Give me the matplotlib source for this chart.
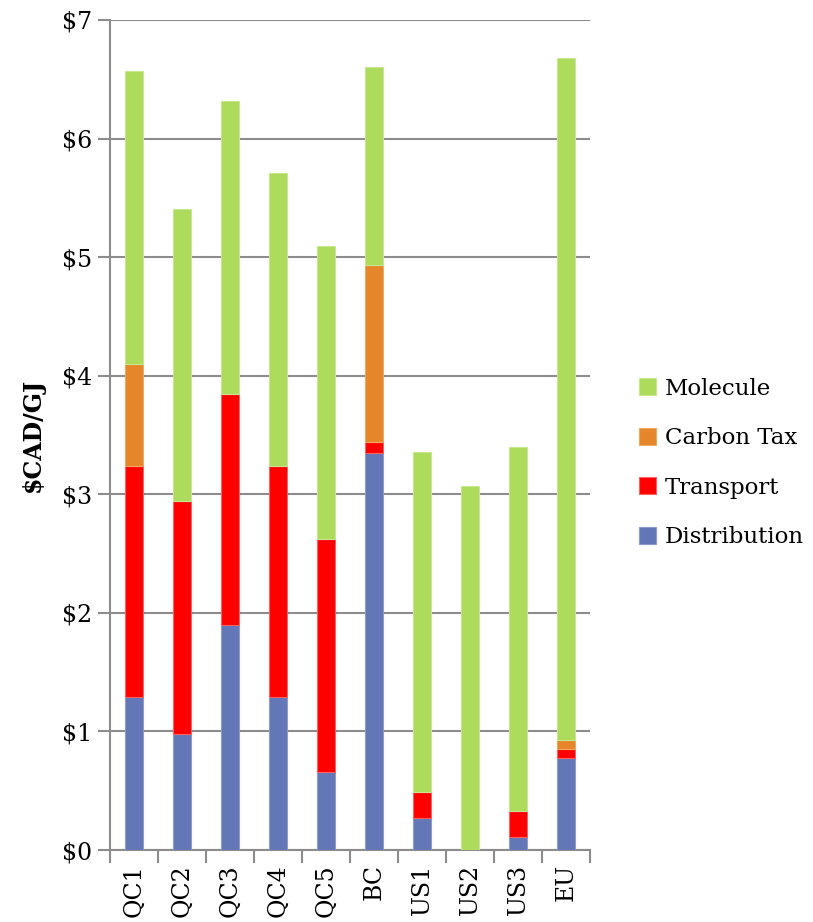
import numpy as np
import matplotlib.pyplot as plt

categories = ['QC1', 'QC2', 'QC3', 'QC4', 'QC5', 'BC', 'US1', 'US2', 'US3', 'EU']
distribution = [1.29, 0.98, 1.90, 1.29, 0.66, 3.35, 0.27, 0.00, 0.11, 0.78]
transport = [1.95, 1.96, 1.95, 1.95, 1.96, 0.09, 0.22, 0.00, 0.22, 0.07]
carbon_tax = [0.86, 0.00, 0.00, 0.00, 0.00, 1.49, 0.00, 0.00, 0.00, 0.08]
molecule = [2.47, 2.47, 2.47, 2.47, 2.47, 1.67, 2.87, 3.07, 3.07, 5.75]

series = [('Distribution', distribution, '#6276b8', '#8c9bd0'),
          ('Transport', transport, '#ff0000', '#ff6060'),
          ('Carbon Tax', carbon_tax, '#e6862a', '#f0a860'),
          ('Molecule', molecule, '#addb5b', '#c8e890')]

plt.rcParams['font.family'] = ['DejaVu Serif']

fig = plt.figure(figsize=(8.13, 9.22), dpi=100)
ax = fig.add_axes([110/813, 72/922, 480/813, 830/922])

x = np.arange(len(categories))
bottom = np.zeros(len(categories))
handles = []
for name, vals, col, edge in series:
    vals = np.array(vals)
    lw = np.where(vals > 0, 0.8, 0)
    b = ax.bar(x, vals, 0.38, bottom=bottom, color=col, edgecolor=edge,
               linewidth=lw, label=name, zorder=3)
    handles.append(b)
    bottom += vals

ax.set_xlim(-0.5, len(categories) - 0.5)
ax.set_ylim(0, 7)
ax.set_yticks(range(0, 8))
ax.set_yticklabels(['$%d' % v for v in range(0, 8)], fontsize=17)
ax.set_xticks(x)
ax.set_xticklabels(categories, rotation=90, fontsize=17)
ax.tick_params(axis='x', length=0, pad=10)
ax.set_xticks(np.arange(-0.5, len(categories)), minor=True)
ax.tick_params(axis='x', which='minor', length=9, color='#8c8c8c', width=1.5)
ax.tick_params(axis='y', length=9, color='#8c8c8c', width=1.5, pad=4)

ax.grid(axis='y', color='#8c8c8c', linewidth=1.5, zorder=0)
for s in ['top', 'right']:
    ax.spines[s].set_visible(False)
for s in ['left', 'bottom']:
    ax.spines[s].set_color('#8c8c8c')
    ax.spines[s].set_linewidth(1.5)

ax.set_ylabel('$CAD/GJ', fontsize=17, fontweight='bold', labelpad=12)

leg = fig.legend(handles[::-1], [h.get_label() for h in handles[::-1]],
                 loc='center left', bbox_to_anchor=(618/813, 1 - 463/922),
                 frameon=False, fontsize=16.5, handlelength=0.75, handleheight=0.75,
                 labelspacing=1.2, handletextpad=0.4)

fig.savefig('out.png', dpi=100)
